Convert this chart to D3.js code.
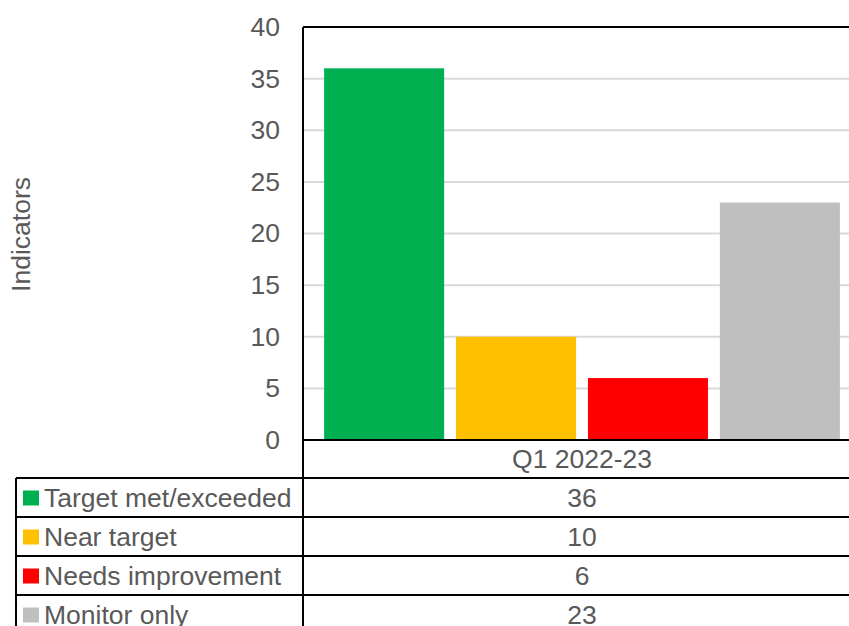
<!DOCTYPE html>
<html>
<head>
<meta charset="utf-8">
<script src="https://cdn.jsdelivr.net/npm/d3@7"></script>
<style>
  body { margin: 0; background: #fff; }
  svg { display: block; font-family: "Liberation Sans", Arial, sans-serif; }
</style>
</head>
<body>
<div id="chart"></div>
<script>
// chart data
const category = 'Q1 2022-23';
const series = ['Target met/exceeded', 'Near target', 'Needs improvement', 'Monitor only'];
const values = [36, 10, 6, 23];
const colors = ['#00b050', '#ffc000', '#ff0000', '#bfbfbf'];
const yTicks = [0, 5, 10, 15, 20, 25, 30, 35, 40];

const width = 849, height = 626;
const plotLeft = 303, plotRight = 861, plotTop = 27, plotBottom = 440;
const tableLeft = 16, rowH = 39;
const textColor = '#595959';
const fontSize = '26.5px';

const svg = d3.select('#chart')
    .append('svg')
    .attr('width', width)
    .attr('height', height);

const y = d3.scaleLinear().domain([0, 40]).range([plotBottom, plotTop]);
const x = d3.scaleBand()
    .domain(series)
    .range([plotLeft, plotRight])
    .paddingInner(0.09)
    .paddingOuter(0.16);

// gridlines
svg.append('g')
    .selectAll('line')
    .data(yTicks.filter(d => d > 0 && d < 40))
    .join('line')
    .attr('x1', plotLeft).attr('x2', plotRight)
    .attr('y1', d => y(d)).attr('y2', d => y(d))
    .attr('stroke', '#d9d9d9')
    .attr('stroke-width', 2);

// y axis labels
const yAxis = d3.axisLeft(y).tickValues(yTicks).tickSize(0).tickPadding(23);
svg.append('g')
    .attr('transform', `translate(${plotLeft},0)`)
    .call(yAxis)
    .call(g => g.select('.domain').remove())
    .call(g => g.selectAll('text')
        .attr('fill', textColor)
        .style('font-size', fontSize)
        .style('font-family', '"Liberation Sans", Arial, sans-serif'));

svg.append('text')
    .attr('transform', `translate(30,${(plotTop + plotBottom) / 2 + 1}) rotate(-90)`)
    .attr('text-anchor', 'middle')
    .attr('fill', textColor)
    .style('font-size', fontSize)
    .text('Indicators');

// bars
svg.append('g')
    .selectAll('rect')
    .data(values)
    .join('rect')
    .attr('x', (d, i) => x(series[i]))
    .attr('y', d => y(d))
    .attr('width', x.bandwidth())
    .attr('height', d => y(0) - y(d))
    .attr('fill', (d, i) => colors[i]);

// plot border and axis
const lines = svg.append('g').attr('stroke', '#000').attr('stroke-width', 2);
lines.append('line').attr('x1', plotLeft).attr('x2', width + 20).attr('y1', plotTop).attr('y2', plotTop);
lines.append('line').attr('x1', plotLeft).attr('x2', plotLeft).attr('y1', plotTop).attr('y2', height + 20);
lines.append('line').attr('x1', plotLeft).attr('x2', width + 20).attr('y1', plotBottom).attr('y2', plotBottom);

// data table
const headerBottom = plotBottom + 38;
svg.append('text')
    .attr('x', (plotLeft + plotRight) / 2)
    .attr('y', (plotBottom + headerBottom) / 2)
    .attr('dy', '0.35em')
    .attr('text-anchor', 'middle')
    .attr('fill', textColor)
    .style('font-size', fontSize)
    .text(category);

lines.append('line').attr('x1', tableLeft).attr('x2', tableLeft).attr('y1', headerBottom).attr('y2', height + 20);
lines.selectAll('.row-line')
    .data(series)
    .join('line')
    .attr('class', 'row-line')
    .attr('x1', tableLeft).attr('x2', width + 20)
    .attr('y1', (d, i) => headerBottom + i * rowH)
    .attr('y2', (d, i) => headerBottom + i * rowH);

const rows = svg.append('g')
    .selectAll('g')
    .data(series)
    .join('g')
    .attr('transform', (d, i) => `translate(0,${headerBottom + i * rowH + rowH / 2})`);

rows.append('rect')
    .attr('x', 23).attr('y', -7)
    .attr('width', 16).attr('height', 15)
    .attr('fill', (d, i) => colors[i]);

rows.append('text')
    .attr('x', 44)
    .attr('dy', '0.35em')
    .attr('fill', textColor)
    .style('font-size', fontSize)
    .text(d => d);

rows.append('text')
    .attr('x', (plotLeft + plotRight) / 2)
    .attr('dy', '0.35em')
    .attr('text-anchor', 'middle')
    .attr('fill', textColor)
    .style('font-size', fontSize)
    .text((d, i) => values[i]);
</script>
</body>
</html>
